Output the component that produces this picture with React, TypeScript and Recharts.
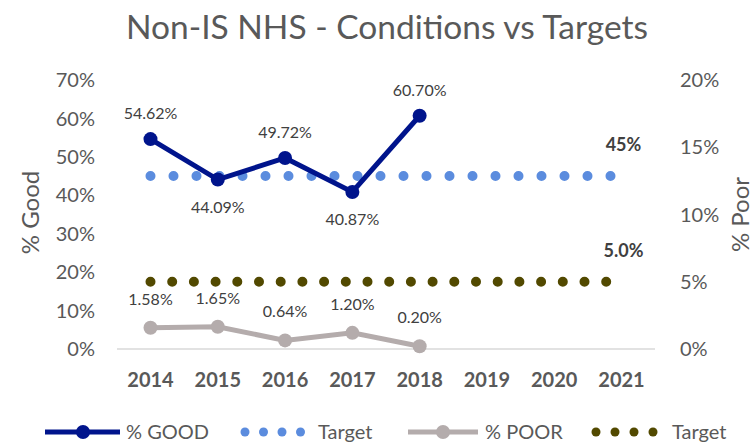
import React from 'react';
import { ComposedChart, Line, XAxis, YAxis, Legend, LabelList } from 'recharts';

const years = ['2014', '2015', '2016', '2017', '2018', '2019', '2020', '2021'];
const goodPct: (number | null)[] = [54.62, 44.09, 49.72, 40.87, 60.7, null, null, null];
const poorPct: (number | null)[] = [1.58, 1.65, 0.64, 1.2, 0.2, null, null, null];
const goodTarget = [45, 45, 45, 45, 45, 45, 45, 45];
const poorTarget = [5, 5, 5, 5, 5, 5, 5, 5];
const leftTicks = [0, 10, 20, 30, 40, 50, 60, 70];
const rightTicks = [0, 5, 10, 15, 20];

const data = years.map((y, i) => ({
  year: y,
  good: goodPct[i],
  poor: poorPct[i],
  tGood: goodTarget[i],
  tPoor: poorTarget[i],
}));

const FONT = 'Lato, "Open Sans", sans-serif';
const GOOD = '#00148C';
const POOR = '#B4ACAC';
const TGOOD = '#5B8CDE';
const TPOOR = '#524900';
const TXT = '#404040';
const AX = '#595959';

const goodLabel = (p: any) => {
  const { x, y, value, index } = p;
  if (value == null) return null;
  const above = index % 2 === 0;
  return (
    <text x={x} y={above ? y - 20 : y + 33} textAnchor="middle" fontSize={16} fill={TXT} fontFamily={FONT}>
      {Number(value).toFixed(2)}%
    </text>
  );
};

const poorLabel = (p: any) => {
  const { x, y, value } = p;
  if (value == null) return null;
  return (
    <text x={x} y={y - 23} textAnchor="middle" fontSize={16} fill={TXT} fontFamily={FONT}>
      {Number(value).toFixed(2)}%
    </text>
  );
};

const targetLabel = (digits: number) => (p: any) => {
  const { x, y, value, index } = p;
  if (index !== years.length - 1) return null;
  return (
    <text x={x + 2} y={y - 25} textAnchor="middle" fontSize={18} fontWeight="bold" fill={TXT} fontFamily={FONT}>
      {Number(value).toFixed(digits)}%
    </text>
  );
};

const renderLegend = () => {
  const ty = 12;
  return (
    <svg width={755} height={26} style={{ display: 'block' }}>
      <line x1={45} x2={120} y1={ty} y2={ty} stroke={GOOD} strokeWidth={5} />
      <circle cx={83} cy={ty} r={7} fill={GOOD} />
      <text x={126} y={ty + 7} fontSize={20} fill={AX} fontFamily={FONT}>% GOOD</text>
      {[0, 1, 2, 3].map((k) => (
        <circle key={'a' + k} cx={245 + k * 18.5} cy={ty} r={4.5} fill={TGOOD} />
      ))}
      <text x={318} y={ty + 7} fontSize={20} fill={AX} fontFamily={FONT}>Target</text>
      <line x1={408} x2={478} y1={ty} y2={ty} stroke={POOR} strokeWidth={5} />
      <circle cx={443} cy={ty} r={7} fill={POOR} />
      <text x={485} y={ty + 7} fontSize={20} fill={AX} fontFamily={FONT}>% POOR</text>
      {[0, 1, 2, 3].map((k) => (
        <circle key={'b' + k} cx={596 + k * 19} cy={ty} r={4.5} fill={TPOOR} />
      ))}
      <text x={672} y={ty + 7} fontSize={20} fill={AX} fontFamily={FONT}>Target</text>
    </svg>
  );
};

const leftAxisLabel = (p: any) => {
  const vb = p.viewBox;
  const cx = vb.x + 22;
  const cy = vb.y + vb.height / 2 - 2;
  return (
    <text x={cx} y={cy} transform={`rotate(-90 ${cx} ${cy})`} textAnchor="middle" fontSize={24} fill={AX} fontFamily={FONT}>
      % Good
    </text>
  );
};

const rightAxisLabel = (p: any) => {
  const vb = p.viewBox;
  const cx = vb.x + 94;
  const cy = vb.y + vb.height / 2;
  return (
    <text x={cx} y={cy} transform={`rotate(-90 ${cx} ${cy})`} textAnchor="middle" fontSize={24} fill={AX} fontFamily={FONT}>
      % Poor
    </text>
  );
};

export default function App() {
  return (
    <div style={{ position: 'absolute', left: 0, top: 0, width: 755, height: 443, background: '#fff', fontFamily: FONT }}>
      <svg width={755} height={60} style={{ position: 'absolute', left: 0, top: 0 }}>
        <text x={387} y={39} textAnchor="middle" fontSize={33.5} fill={AX} fontFamily={FONT}>
          Non-IS NHS - Conditions vs Targets
        </text>
      </svg>
      <ComposedChart
        width={755}
        height={443}
        data={data}
        margin={{ top: 80, right: 0, left: 17, bottom: 54 }}
      >
        <XAxis
          dataKey="year"
          scale="point"
          padding={{ left: 33.5, right: 33.5 }}
          axisLine={{ stroke: '#D9D9D9', strokeWidth: 1.5 }}
          tickLine={false}
          tickSize={0}
          tickMargin={24}
          height={40}
          tick={{ fontSize: 20, fontWeight: 'bold', fill: AX, fontFamily: FONT }}
          interval={0}
        />
        <YAxis
          yAxisId="left"
          orientation="left"
          domain={[0, 70]}
          ticks={leftTicks}
          tickFormatter={(v: number) => `${v}%`}
          axisLine={false}
          tickLine={false}
          tickSize={0}
          tickMargin={22}
          width={100}
          tick={{ fontSize: 20, fill: AX, fontFamily: FONT }}
          label={{ content: leftAxisLabel }}
        />
        <YAxis
          yAxisId="right"
          orientation="right"
          domain={[0, 20]}
          ticks={rightTicks}
          tickFormatter={(v: number) => `${v}%`}
          axisLine={false}
          tickLine={false}
          tickSize={0}
          tickMargin={25}
          width={100}
          tick={{ fontSize: 20, fill: AX, fontFamily: FONT }}
          label={{ content: rightAxisLabel }}
        />
        <Legend
          content={renderLegend}
          verticalAlign="middle"
          align="center"
          layout="horizontal"
          wrapperStyle={{ top: 420, left: 0, width: 755, height: 26 }}
        />
        <Line
          yAxisId="left"
          dataKey="tGood"
          name="Target"
          stroke={TGOOD}
          strokeWidth={10}
          strokeDasharray="0 23"
          strokeLinecap="round"
          dot={false}
          activeDot={false}
          isAnimationActive={false}
        >
          <LabelList dataKey="tGood" content={targetLabel(0)} />
        </Line>
        <Line
          yAxisId="right"
          dataKey="tPoor"
          name="Target"
          stroke={TPOOR}
          strokeWidth={10}
          strokeDasharray="0 21.7"
          strokeLinecap="round"
          dot={false}
          activeDot={false}
          isAnimationActive={false}
        >
          <LabelList dataKey="tPoor" content={targetLabel(1)} />
        </Line>
        <Line
          yAxisId="right"
          dataKey="poor"
          name="% POOR"
          stroke={POOR}
          strokeWidth={5}
          dot={{ r: 7, fill: POOR, stroke: 'none' }}
          activeDot={false}
          isAnimationActive={false}
        >
          <LabelList dataKey="poor" content={poorLabel} />
        </Line>
        <Line
          yAxisId="left"
          dataKey="good"
          name="% GOOD"
          stroke={GOOD}
          strokeWidth={5}
          dot={{ r: 7, fill: GOOD, stroke: 'none' }}
          activeDot={false}
          isAnimationActive={false}
        >
          <LabelList dataKey="good" content={goodLabel} />
        </Line>
      </ComposedChart>
    </div>
  );
}
